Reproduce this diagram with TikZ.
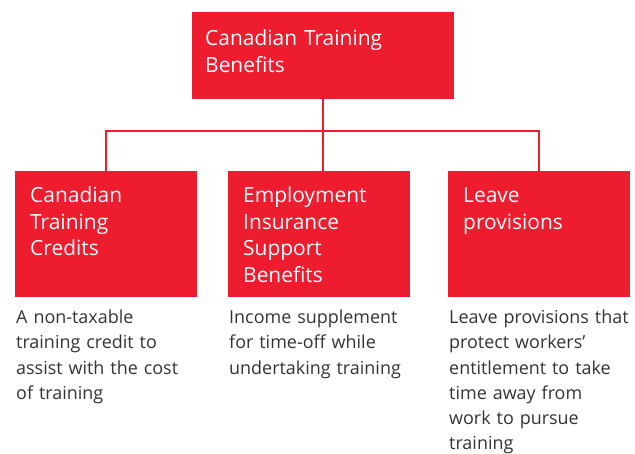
\documentclass[tikz,border=0pt]{standalone}
\usepackage{fontspec}
\setmainfont{Open Sans}
\usepackage{tikz}
\definecolor{cred}{RGB}{237,28,46}
\definecolor{cgray}{RGB}{51,51,51}
\tikzset{every node/.style={align=left, inner sep=0pt}}

\begin{document}
\begin{tikzpicture}[x=1bp, y=-1bp,
    box/.style={rectangle, fill=cred, minimum width=182bp, minimum height=126bp, anchor=north west},
    boxtext/.style={text=white, anchor=base west, text width=170bp, font=\fontsize{21}{26.5}\selectfont},
    desc/.style={text=cgray, anchor=base west, text width=185bp, font=\fontsize{18}{25.4}\selectfont},
    link/.style={draw=cred, line width=2.4bp}]
             \useasboundingbox (0,0) rectangle (635,454);
             \node [box, minimum width=262bp, minimum height=87bp] (root) at (192,12) {};
             \node [box] (b1) at (15,171) {};
             \node [box] (b2) at (228,171) {};
             \node [box] (b3) at (448,171) {};
             \coordinate (bus) at (0,131);

             \node [boxtext, text width=240bp] (t0) at ([shift={(13,34)}]root.north west) {Canadian Training\\Benefits};
             \node [boxtext] (t1) at ([shift={(15,32)}]b1.north west) {Canadian\\Training\\Credits};
             \node [boxtext] (t2) at ([shift={(15,32)}]b2.north west) {Employment\\Insurance\\Support\\Benefits};
             \node [boxtext] (t3) at ([shift={(15,32)}]b3.north west) {Leave\\provisions};

             \node [desc] (d1) at ([shift={(1,26)}]b1.south west) {A non-taxable\\training credit to\\assist with the cost\\of training};
             \node [desc] (d2) at ([shift={(1,26)}]b2.south west) {Income supplement\\for time-off while\\undertaking training};
             \node [desc] (d3) at ([shift={(1,26)}]b3.south west) {Leave provisions that\\protect workers’\\entitlement to take\\time away from\\work to pursue\\training};

             \path[link] (root.south) -- ([yshift=-1.5]root.south |- b2.north)
                ([yshift=-1.5]b1.north) -- (b1.north |- bus) -- (b3.north |- bus) -- ([yshift=-1.5]b3.north);
         \end{tikzpicture}
\end{document}
